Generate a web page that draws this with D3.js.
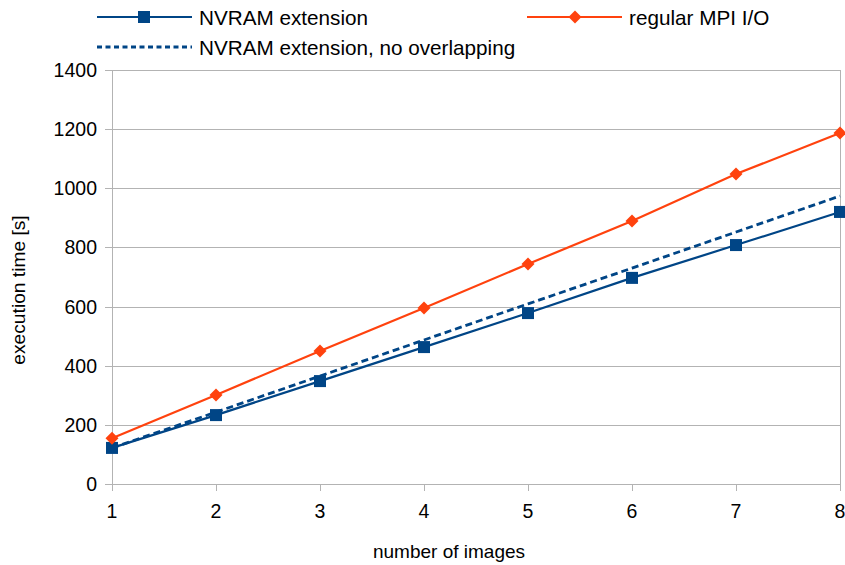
<!DOCTYPE html>
<html><head><meta charset="utf-8">
<script src="https://cdn.jsdelivr.net/npm/d3@7"></script>
<style>body{margin:0;background:#fff}svg{font-family:"Liberation Sans",Arial,sans-serif}</style>
</head><body>
<svg id="c" width="845" height="565"></svg>
<script>
const images = [1,2,3,4,5,6,7,8];
const nvram = [122,233,348,463,578,697,808,920];
const regular = [155,301,450,595,744,889,1048,1187];
const nvramNoOverlap = [122,243,365,487,609,730,852,974];
const yTicks = [0,200,400,600,800,1000,1200,1400];
const seriesNames = ["NVRAM extension","regular MPI I/O","NVRAM extension, no overlapping"];

const svg = d3.select("#c");
const L=112,R=840,T=70,B=484;
const x = d3.scaleLinear().domain([1,8]).range([L,R]);
const y = d3.scaleLinear().domain([0,1400]).range([B,T]);
const grid="#b3b3b3";

svg.append("g").selectAll("line").data(yTicks).join("line")
  .attr("x1",L-7).attr("x2",R).attr("y1",d=>Math.round(y(d))+0.5).attr("y2",d=>Math.round(y(d))+0.5)
  .attr("stroke",grid).attr("stroke-width",1);
svg.append("line").attr("x1",L+0.5).attr("x2",L+0.5).attr("y1",T).attr("y2",B+7).attr("stroke",grid);
svg.append("line").attr("x1",R+0.5).attr("x2",R+0.5).attr("y1",T).attr("y2",B+7).attr("stroke",grid);
svg.append("g").selectAll("line").data(images).join("line")
  .attr("x1",d=>Math.round(x(d))+0.5).attr("x2",d=>Math.round(x(d))+0.5).attr("y1",B).attr("y2",B+7)
  .attr("stroke",grid);

svg.append("g").selectAll("text").data(yTicks).join("text")
  .attr("x",97).attr("y",d=>y(d)+7).attr("text-anchor","end")
  .attr("font-size",19.5).attr("fill","#000").text(d=>d);
svg.append("g").selectAll("text").data(images).join("text")
  .attr("x",d=>x(d)).attr("y",518).attr("text-anchor","middle")
  .attr("font-size",19.5).attr("fill","#000").text(d=>d);

svg.append("text").attr("transform","translate(25,290) rotate(-90)").attr("text-anchor","middle")
  .attr("font-size",19.2).text("execution time [s]");
svg.append("text").attr("x",449).attr("y",558).attr("text-anchor","middle")
  .attr("font-size",19).text("number of images");

const blue="#004586", red="#ff420e";
const line = d3.line().x((d,i)=>x(images[i])).y(d=>y(d));

svg.append("path").datum(nvramNoOverlap).attr("d",line).attr("fill","none")
  .attr("stroke",blue).attr("stroke-width",2.8).attr("stroke-dasharray","7,4");
svg.append("path").datum(regular).attr("d",line).attr("fill","none")
  .attr("stroke",red).attr("stroke-width",2.2);
svg.append("path").datum(nvram).attr("d",line).attr("fill","none")
  .attr("stroke",blue).attr("stroke-width",2.2);

const sq=12, dm=6.5;
svg.append("g").selectAll("rect").data(nvram).join("rect")
  .attr("x",(d,i)=>x(images[i])-sq/2).attr("y",d=>y(d)-sq/2).attr("width",sq).attr("height",sq).attr("fill",blue);
svg.append("g").selectAll("path").data(regular).join("path")
  .attr("d",(d,i)=>{const cx=x(images[i]),cy=y(d);return `M${cx},${cy-dm}L${cx+dm},${cy}L${cx},${cy+dm}L${cx-dm},${cy}Z`;})
  .attr("fill",red);

// legend
const lg = svg.append("g");
lg.append("line").attr("x1",97).attr("x2",192).attr("y1",17).attr("y2",17).attr("stroke",blue).attr("stroke-width",2.2);
lg.append("rect").attr("x",144-sq/2).attr("y",17-sq/2).attr("width",sq).attr("height",sq).attr("fill",blue);
lg.append("text").attr("x",199).attr("y",25).attr("font-size",20.7).text(seriesNames[0]);
lg.append("line").attr("x1",527).attr("x2",622).attr("y1",17).attr("y2",17).attr("stroke",red).attr("stroke-width",2.2);
lg.append("path").attr("d",`M575,${17-dm}L${575+dm},17L575,${17+dm}L${575-dm},17Z`).attr("fill",red);
lg.append("text").attr("x",629).attr("y",25).attr("font-size",20.7).text(seriesNames[1]);
lg.append("line").attr("x1",97).attr("x2",192).attr("y1",47).attr("y2",47).attr("stroke",blue).attr("stroke-width",2.8).attr("stroke-dasharray","5,3.5");
lg.append("text").attr("x",199).attr("y",55).attr("font-size",20.7).text(seriesNames[2]);
</script>
</body></html>
